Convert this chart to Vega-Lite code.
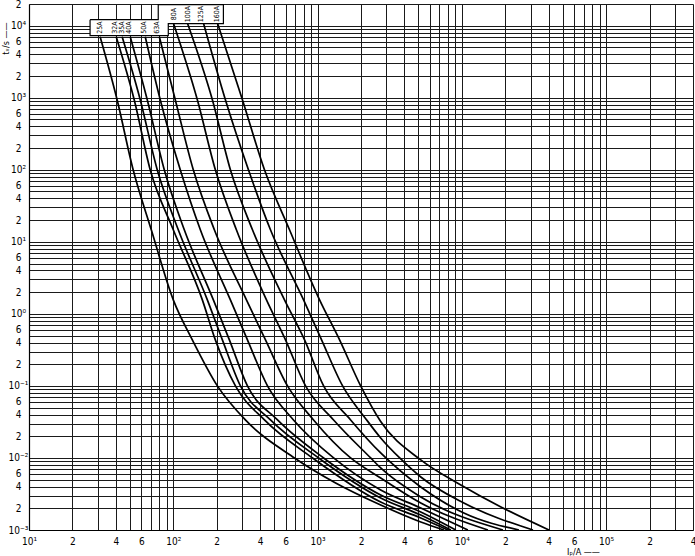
{
  "$schema": "https://vega.github.io/schema/vega-lite/v6.json",
  "width": 664,
  "height": 526,
  "autosize": {"type": "none"},
  "padding": {"left": 29, "top": 4, "right": 2, "bottom": 26},
  "background": "white",
  "config": {"view": {"stroke": null}, "font": "DejaVu Sans Condensed, DejaVu Sans"},
  "datasets": {
    "curves": [
      {"fuse": "25A", "I": 31.1, "t": 7036}, {"fuse": "25A", "I": 40.8, "t": 938}, {"fuse": "25A", "I": 52.7, "t": 100}, {"fuse": "25A", "I": 70.4, "t": 14.7}, {"fuse": "25A", "I": 100, "t": 1.565}, {"fuse": "25A", "I": 135.5, "t": 0.4355}, {"fuse": "25A", "I": 202.1, "t": 0.1}, {"fuse": "25A", "I": 316, "t": 0.0337}, {"fuse": "25A", "I": 692, "t": 0.01}, {"fuse": "25A", "I": 1334, "t": 0.0045}, {"fuse": "25A", "I": 2738, "t": 0.002225}, {"fuse": "25A", "I": 5192, "t": 0.001292}, {"fuse": "25A", "I": 7499, "t": 0.001},
      {"fuse": "32A", "I": 40.2, "t": 7036}, {"fuse": "32A", "I": 53.6, "t": 938}, {"fuse": "32A", "I": 69.2, "t": 100}, {"fuse": "32A", "I": 100, "t": 14.7}, {"fuse": "32A", "I": 159, "t": 1.565}, {"fuse": "32A", "I": 195.7, "t": 0.4355}, {"fuse": "32A", "I": 269.6, "t": 0.1}, {"fuse": "32A", "I": 428.5, "t": 0.0337}, {"fuse": "32A", "I": 923, "t": 0.01}, {"fuse": "32A", "I": 2738, "t": 0.002448}, {"fuse": "32A", "I": 5192, "t": 0.001468}, {"fuse": "32A", "I": 7994, "t": 0.001},
      {"fuse": "35A", "I": 44.2, "t": 7036}, {"fuse": "35A", "I": 59.0, "t": 938}, {"fuse": "35A", "I": 77.4, "t": 100}, {"fuse": "35A", "I": 108.3, "t": 14.7}, {"fuse": "35A", "I": 172.2, "t": 1.565}, {"fuse": "35A", "I": 218.9, "t": 0.4355}, {"fuse": "35A", "I": 292, "t": 0.1}, {"fuse": "35A", "I": 471.5, "t": 0.0337}, {"fuse": "35A", "I": 1016, "t": 0.01}, {"fuse": "35A", "I": 2738, "t": 0.002783}, {"fuse": "35A", "I": 5192, "t": 0.001615}, {"fuse": "35A", "I": 8384, "t": 0.001},
      {"fuse": "40A", "I": 50.3, "t": 7036}, {"fuse": "40A", "I": 66.0, "t": 938}, {"fuse": "40A", "I": 86.6, "t": 100}, {"fuse": "40A", "I": 119.2, "t": 14.7}, {"fuse": "40A", "I": 189.6, "t": 1.565}, {"fuse": "40A", "I": 244.8, "t": 0.4355}, {"fuse": "40A", "I": 326.6, "t": 0.1}, {"fuse": "40A", "I": 527.6, "t": 0.0337}, {"fuse": "40A", "I": 1101, "t": 0.01}, {"fuse": "40A", "I": 2738, "t": 0.003063}, {"fuse": "40A", "I": 5192, "t": 0.001778}, {"fuse": "40A", "I": 9085, "t": 0.001},
      {"fuse": "50A", "I": 63.9, "t": 7036}, {"fuse": "50A", "I": 81.2, "t": 938}, {"fuse": "50A", "I": 111.8, "t": 100}, {"fuse": "50A", "I": 154.0, "t": 14.7}, {"fuse": "50A", "I": 248.8, "t": 1.565}, {"fuse": "50A", "I": 326.6, "t": 0.4355}, {"fuse": "50A", "I": 449.6, "t": 0.1}, {"fuse": "50A", "I": 681, "t": 0.0337}, {"fuse": "50A", "I": 1292, "t": 0.01}, {"fuse": "50A", "I": 2738, "t": 0.003594}, {"fuse": "50A", "I": 5192, "t": 0.002021}, {"fuse": "50A", "I": 11010, "t": 0.001},
      {"fuse": "63A", "I": 80, "t": 7036}, {"fuse": "63A", "I": 103.2, "t": 938}, {"fuse": "63A", "I": 137.6, "t": 100}, {"fuse": "63A", "I": 192.6, "t": 14.7}, {"fuse": "63A", "I": 321.4, "t": 1.565}, {"fuse": "63A", "I": 435.5, "t": 0.4355}, {"fuse": "63A", "I": 618.9, "t": 0.1}, {"fuse": "63A", "I": 938, "t": 0.0337}, {"fuse": "63A", "I": 1695, "t": 0.01}, {"fuse": "63A", "I": 2738, "t": 0.005278}, {"fuse": "63A", "I": 5192, "t": 0.002371}, {"fuse": "63A", "I": 15160, "t": 0.001},
      {"fuse": "80A", "I": 100, "t": 11010}, {"fuse": "80A", "I": 146.8, "t": 938}, {"fuse": "80A", "I": 195.7, "t": 100}, {"fuse": "80A", "I": 273.8, "t": 14.7}, {"fuse": "80A", "I": 442.5, "t": 1.565}, {"fuse": "80A", "I": 599.5, "t": 0.4355}, {"fuse": "80A", "I": 825.4, "t": 0.1}, {"fuse": "80A", "I": 1292, "t": 0.0337}, {"fuse": "80A", "I": 2334, "t": 0.01}, {"fuse": "80A", "I": 2738, "t": 0.007262}, {"fuse": "80A", "I": 5192, "t": 0.002873}, {"fuse": "80A", "I": 19260, "t": 0.001},
      {"fuse": "100A", "I": 125.1, "t": 11010}, {"fuse": "100A", "I": 186.6, "t": 938}, {"fuse": "100A", "I": 248.8, "t": 100}, {"fuse": "100A", "I": 353.8, "t": 14.7}, {"fuse": "100A", "I": 590, "t": 1.565}, {"fuse": "100A", "I": 812.7, "t": 0.4355}, {"fuse": "100A", "I": 1101, "t": 0.1}, {"fuse": "100A", "I": 1695, "t": 0.0337}, {"fuse": "100A", "I": 2738, "t": 0.01173}, {"fuse": "100A", "I": 5192, "t": 0.003956}, {"fuse": "100A", "I": 10325, "t": 0.001722}, {"fuse": "100A", "I": 24880, "t": 0.001},
      {"fuse": "125A", "I": 161.6, "t": 11010}, {"fuse": "125A", "I": 229.7, "t": 938}, {"fuse": "125A", "I": 331.8, "t": 100}, {"fuse": "125A", "I": 471.5, "t": 14.7}, {"fuse": "125A", "I": 799.8, "t": 1.565}, {"fuse": "125A", "I": 1066, "t": 0.4355}, {"fuse": "125A", "I": 1491, "t": 0.1}, {"fuse": "125A", "I": 2189, "t": 0.0337}, {"fuse": "125A", "I": 2738, "t": 0.01896}, {"fuse": "125A", "I": 3710, "t": 0.01}, {"fuse": "125A", "I": 5192, "t": 0.005447}, {"fuse": "125A", "I": 10325, "t": 0.002371}, {"fuse": "125A", "I": 31120, "t": 0.001},
      {"fuse": "160A", "I": 202.1, "t": 11010}, {"fuse": "160A", "I": 301.4, "t": 938}, {"fuse": "160A", "I": 428.5, "t": 100}, {"fuse": "160A", "I": 639, "t": 14.7}, {"fuse": "160A", "I": 1032.5, "t": 1.565}, {"fuse": "160A", "I": 1421, "t": 0.4355}, {"fuse": "160A", "I": 1989, "t": 0.1}, {"fuse": "160A", "I": 2738, "t": 0.032}, {"fuse": "160A", "I": 5192, "t": 0.009381}, {"fuse": "160A", "I": 9842, "t": 0.004217}, {"fuse": "160A", "I": 18660, "t": 0.002086}, {"fuse": "160A", "I": 40200, "t": 0.001}
    ],
    "boxes": [
      {"I": 26.5, "I2": 92.33, "t": 7263, "t2": 12115},
      {"I": 78.66, "I2": 222.5, "t": 10660, "t2": 19570}
    ],
    "outline": [
      {"k": 1, "I": 26.5, "t": 12115}, {"k": 2, "I": 78.66, "t": 12115}, {"k": 3, "I": 78.66, "t": 19570}, {"k": 4, "I": 222.5, "t": 19570}, {"k": 5, "I": 222.5, "t": 10660}, {"k": 6, "I": 92.33, "t": 10660}, {"k": 7, "I": 92.33, "t": 7263}, {"k": 8, "I": 26.5, "t": 7263}, {"k": 9, "I": 26.5, "t": 12115}
    ],
    "labels": [
      {"label": "25A", "I": 31.1, "t": 9380}, {"label": "32A", "I": 39.6, "t": 9380}, {"label": "35A", "I": 44.0, "t": 9380}, {"label": "40A", "I": 49.7, "t": 9380}, {"label": "50A", "I": 62.2, "t": 9380}, {"label": "63A", "I": 77.1, "t": 9380},
      {"label": "80A", "I": 100.5, "t": 14444}, {"label": "100A", "I": 125.7, "t": 14444}, {"label": "125A", "I": 155.7, "t": 14444}, {"label": "160A", "I": 201.2, "t": 14444}
    ]
  },
  "encoding": {
    "x": {
      "field": "I", "type": "quantitative",
      "scale": {"type": "log", "domain": [10, 400000], "nice": false},
      "axis": {
        "values": [10,20,30,40,50,60,70,80,90,100,200,300,400,500,600,700,800,900,1000,2000,3000,4000,5000,6000,7000,8000,9000,10000,20000,30000,40000,50000,60000,70000,80000,90000,100000,200000,300000,400000],
        "grid": true, "gridColor": "#1a1a1a", "gridWidth": 1, "gridOpacity": 1,
        "ticks": false, "tickSize": 0,
        "domain": true, "domainColor": "black", "domainWidth": 1.2,
        "labelExpr": "round(datum.value/pow(10,floor(log(datum.value)/LN10+0.000001)))==1 ? '10' + ['⁻³','⁻²','⁻¹','⁰','¹','²','³','⁴','⁵'][floor(log(datum.value)/LN10+0.000001)+3] : (indexof([2,4,6], round(datum.value/pow(10,floor(log(datum.value)/LN10+0.000001)))) >= 0 ? '' + round(datum.value/pow(10,floor(log(datum.value)/LN10+0.000001))) : '')",
        "labelFontSize": 10, "labelPadding": 6, "labelColor": "black", "labelFlush": false, "labelOverlap": false, "labelBound": false,
        "title": "Iₚ/A ——", "titleX": 554, "titleY": 21, "titleFontWeight": "normal", "titleFontSize": 9, "titleAlign": "center", "titleBaseline": "middle", "titleColor": "black"
      }
    },
    "y": {
      "field": "t", "type": "quantitative",
      "scale": {"type": "log", "domain": [0.001, 20000], "nice": false},
      "axis": {
        "values": [0.001,0.002,0.003,0.004,0.005,0.006,0.007,0.008,0.009,0.01,0.02,0.03,0.04,0.05,0.06,0.07,0.08,0.09,0.1,0.2,0.3,0.4,0.5,0.6,0.7,0.8,0.9,1,2,3,4,5,6,7,8,9,10,20,30,40,50,60,70,80,90,100,200,300,400,500,600,700,800,900,1000,2000,3000,4000,5000,6000,7000,8000,9000,10000,20000],
        "grid": true, "gridColor": "#1a1a1a", "gridWidth": 1, "gridOpacity": 1,
        "ticks": false, "tickSize": 0,
        "domain": true, "domainColor": "black", "domainWidth": 1.2,
        "labelExpr": "round(datum.value/pow(10,floor(log(datum.value)/LN10+0.000001)))==1 ? '10' + ['⁻³','⁻²','⁻¹','⁰','¹','²','³','⁴','⁵'][floor(log(datum.value)/LN10+0.000001)+3] : (indexof([2,4,6], round(datum.value/pow(10,floor(log(datum.value)/LN10+0.000001)))) >= 0 ? '' + round(datum.value/pow(10,floor(log(datum.value)/LN10+0.000001))) : '')",
        "labelFontSize": 10, "labelPadding": 11, "labelAlign": "center", "labelBaseline": "middle", "labelColor": "black", "labelFlush": false, "labelOverlap": false, "labelBound": false,
        "title": "tᵥ/s ——", "titleX": -24, "titleY": 34, "titleAngle": 270, "titleFontWeight": "normal", "titleFontSize": 9, "titleAlign": "center", "titleBaseline": "middle", "titleColor": "black"
      }
    }
  },
  "layer": [
    {
      "data": {"name": "curves"},
      "mark": {"type": "line", "color": "black", "strokeWidth": 1.7, "interpolate": "monotone"},
      "encoding": {"detail": {"field": "fuse", "type": "nominal"}}
    },
    {
      "data": {"name": "boxes"},
      "mark": {"type": "rect", "fill": "white"},
      "encoding": {"x2": {"field": "I2"}, "y2": {"field": "t2"}}
    },
    {
      "data": {"name": "outline"},
      "mark": {"type": "line", "color": "black", "strokeWidth": 1.2},
      "encoding": {"order": {"field": "k", "type": "quantitative"}}
    },
    {
      "data": {"name": "labels"},
      "mark": {"type": "text", "angle": 270, "fontSize": 7, "align": "center", "baseline": "middle", "color": "black"},
      "encoding": {"text": {"field": "label", "type": "nominal"}}
    }
  ]
}
